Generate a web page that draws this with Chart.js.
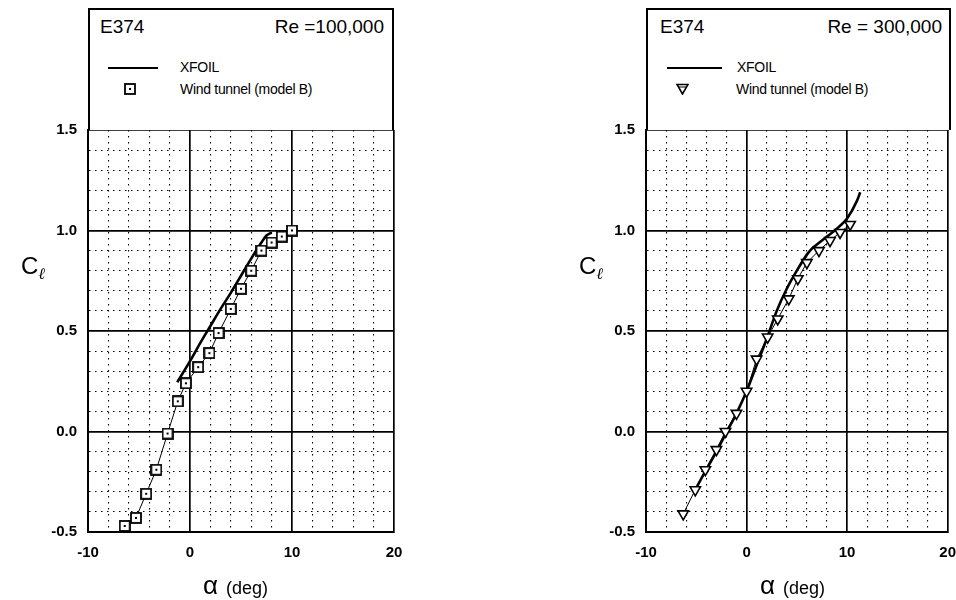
<!DOCTYPE html>
<html>
<head>
<meta charset="utf-8">
<script src="https://cdn.jsdelivr.net/npm/chart.js@4.4.0/dist/chart.umd.min.js"></script>
<style>
  body { margin:0; width:956px; height:600px; overflow:hidden; background:#fff; position:relative;
         font-family:'Liberation Sans', Arial, sans-serif; color:#000; }
  .wrap { position:absolute; top:0; height:600px; }
  .head { position:absolute; top:8px; height:122px; box-sizing:border-box; border:2px solid #000; border-bottom:none; background:#fff; }
  .t  { position:absolute; top:8px; font-size:19px; line-height:18px; white-space:nowrap; }
  .lt { position:absolute; font-size:14px; line-height:15px; letter-spacing:-0.3px; white-space:nowrap; }
  .ln { position:absolute; top:57px; height:0; border-top:2px solid #000; }
  .mk { position:absolute; }
  .ytitle { position:absolute; top:252px; font-size:24px; white-space:nowrap; }
  .ytitle sub { font-size:16px; font-style:italic; font-family:'DejaVu Serif', serif; vertical-align:-5px; }
  .xtitle { position:absolute; top:570px; white-space:nowrap; }
  .xtitle .a { font-size:26px; }
  .xtitle .d { font-size:18px; margin-left:8px; }
</style>
</head>
<body>

<div class="wrap" style="left:0;width:478px"><canvas id="c100"></canvas></div>
<div class="wrap" style="left:478px;width:490px"><canvas id="c300"></canvas></div>

<!-- header boxes -->
<div class="head" style="left:88px;width:306px">
  <div class="t" style="left:10px">E374</div>
  <div class="t" style="right:8px">Re =100,000</div>
  <div class="ln" style="left:18px;width:50px"></div>
  <div class="lt" style="left:90px;top:50px">XFOIL</div>
  <svg class="mk" style="left:34px;top:73px" width="12" height="12">
    <rect x="1" y="1" width="10" height="10" fill="#fff" stroke="#000" stroke-width="1.8"/>
    <rect x="5" y="5" width="2" height="2" fill="#000"/>
  </svg>
  <div class="lt" style="left:90px;top:72px">Wind tunnel (model B)</div>
</div>
<div class="head" style="left:646px;width:305px">
  <div class="t" style="left:12px">E374</div>
  <div class="t" style="right:7px">Re = 300,000</div>
  <div class="ln" style="left:19px;width:55px"></div>
  <div class="lt" style="left:89px;top:50px">XFOIL</div>
  <svg class="mk" style="left:28px;top:73px" width="13" height="12">
    <polygon points="1,1.5 12,1.5 6.5,11" fill="#fff" stroke="#000" stroke-width="1.6"/>
    <line x1="3" y1="4" x2="10" y2="4" stroke="#000" stroke-width="1"/>
  </svg>
  <div class="lt" style="left:88px;top:72px">Wind tunnel (model B)</div>
</div>

<!-- axis titles -->
<div class="ytitle" style="left:21px">C<sub>ℓ</sub></div>
<div class="ytitle" style="left:579px">C<sub>ℓ</sub></div>
<div class="xtitle" style="left:203px"><span class="a">α</span><span class="d">(deg)</span></div>
<div class="xtitle" style="left:760px"><span class="a">α</span><span class="d">(deg)</span></div>

<script>
// axis ranges and labelled ticks
const xMajor = [-10, 0, 10, 20];
const yMajor = [-0.5, 0, 0.5, 1.0, 1.5];

// Re = 100,000
const xfoil100Alpha  = [-1.25, 0, 1, 2, 3, 4, 5, 6, 7, 7.5, 8];
const xfoil100Cl     = [0.245, 0.35, 0.44, 0.525, 0.61, 0.69, 0.775, 0.86, 0.94, 0.975, 0.99];
const tunnel100Alpha = [-6.4, -5.3, -4.3, -3.3, -2.2, -1.2, -0.4, 0.8, 1.9, 2.8, 4.0, 5.0, 6.0, 7.0, 8.0, 9.0, 10.0];
const tunnel100Cl    = [-0.47, -0.43, -0.31, -0.19, -0.01, 0.15, 0.24, 0.32, 0.39, 0.49, 0.61, 0.71, 0.80, 0.90, 0.94, 0.97, 1.00];

// Re = 300,000
const xfoil300Alpha  = [-5, -4, -3, -2, -1, 0, 1, 2, 3, 4, 5, 6, 6.5, 7, 8, 9, 10, 11, 11.3];
const xfoil300Cl     = [-0.28, -0.19, -0.10, -0.005, 0.09, 0.20, 0.33, 0.46, 0.60, 0.71, 0.80, 0.88, 0.91, 0.93, 0.97, 1.01, 1.06, 1.15, 1.19];
const tunnel300Alpha = [-6.3, -5.1, -4.1, -3.0, -2.1, -1.0, 0.0, 1.0, 2.1, 3.1, 4.2, 5.1, 6.0, 7.2, 8.3, 9.3, 10.3];
const tunnel300Cl    = [-0.41, -0.29, -0.19, -0.09, 0.0, 0.09, 0.20, 0.36, 0.47, 0.56, 0.66, 0.76, 0.84, 0.90, 0.95, 0.99, 1.03];

const FONT = "'Liberation Sans', Arial, sans-serif";
const pts = (a, c) => a.map((v, i) => ({ x: v, y: c[i] }));
const isXMajor = v => xMajor.includes(v);
const isYMajor = v => Math.round(v * 10) % 5 === 0;

function squareMarker() {
  const c = document.createElement('canvas');
  c.width = 12; c.height = 12;
  const g = c.getContext('2d');
  g.fillStyle = '#fff'; g.fillRect(1, 1, 10, 10);
  g.lineWidth = 1.8; g.strokeStyle = '#000'; g.strokeRect(1, 1, 10, 10);
  g.fillStyle = '#000'; g.fillRect(5, 5, 2, 2);
  return c;
}

function xfoilSet(a, c) {
  return { data: pts(a, c), showLine: true, borderColor: '#000', borderWidth: 2.6,
           pointRadius: 0, cubicInterpolationMode: 'monotone', order: 1 };
}

function makeChart(id, padLeft, padRight, datasets) {
  const tickFont = { family: FONT, size: 15, weight: 'bold' };
  new Chart(document.getElementById(id), {
    type: 'scatter',
    data: { datasets },
    options: {
      animation: false, responsive: true, maintainAspectRatio: false,
      layout: { padding: { left: padLeft, right: padRight, top: 130, bottom: 0 } },
      plugins: { legend: { display: false }, tooltip: { enabled: false } },
      scales: {
        x: {
          type: 'linear', min: -10, max: 20,
          afterFit: s => { s.height = 68; },
          ticks: { stepSize: 2, autoSkip: false, maxRotation: 0, padding: 12, color: '#000', font: tickFont,
                   callback: v => isXMajor(v) ? String(v) : '' },
          grid: { drawTicks: false, color: '#000',
                  lineWidth: c => (c.tick && isXMajor(c.tick.value)) ? 1.7 : 1.1 },
          border: { color: '#000', width: 2,
                    dash: c => (c.tick && !isXMajor(c.tick.value)) ? [1.5, 4.5] : [] }
        },
        y: {
          type: 'linear', min: -0.5, max: 1.5,
          afterFit: s => { s.width = 88; },
          ticks: { stepSize: 0.1, autoSkip: false, padding: 11, color: '#000', font: tickFont,
                   callback: v => isYMajor(v) ? v.toFixed(1) : '' },
          grid: { drawTicks: false, color: '#000',
                  lineWidth: c => (c.tick && isYMajor(c.tick.value)) ? 1.7 : 1.1 },
          border: { color: '#000', width: 2,
                    dash: c => (c.tick && !isYMajor(c.tick.value)) ? [1.5, 4.5] : [] }
        }
      }
    }
  });
}

makeChart('c100', 0, 84, [
  { data: pts(tunnel100Alpha, tunnel100Cl), showLine: true, borderColor: '#000', borderWidth: 1,
    pointStyle: squareMarker(), order: 0 },
  xfoilSet(xfoil100Alpha, xfoil100Cl)
]);

makeChart('c300', 80, 17, [
  { data: pts(tunnel300Alpha, tunnel300Cl), showLine: true, borderColor: '#000', borderWidth: 1,
    pointStyle: 'triangle', rotation: 180, pointRadius: 6, pointBackgroundColor: '#fff',
    pointBorderColor: '#000', pointBorderWidth: 1.6, order: 0 },
  xfoilSet(xfoil300Alpha, xfoil300Cl)
]);
</script>
</body>
</html>
